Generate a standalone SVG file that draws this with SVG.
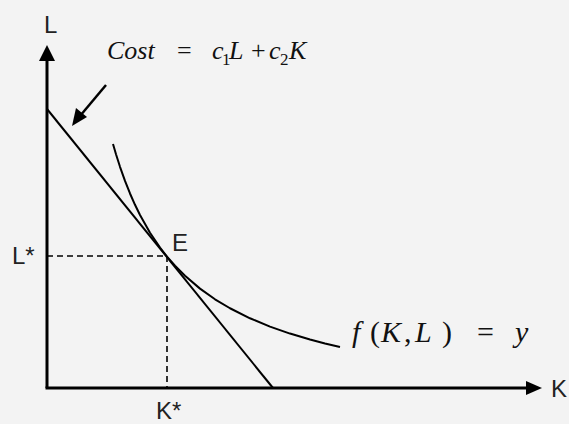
<svg xmlns="http://www.w3.org/2000/svg" width="569" height="424" viewBox="0 0 569 424">
<defs>
<style>
.lbl{font-family:"Liberation Sans",Arial,sans-serif;font-size:24px;fill:#222}
.math{font-family:"Liberation Serif","Times New Roman",serif;fill:#111}
.it{font-style:italic}
.axis{stroke:#000;stroke-width:3;fill:none}
.ln{stroke:#000;stroke-width:2;fill:none}
.dash{stroke:#000;stroke-width:1.6;stroke-dasharray:6 4;fill:none}
</style>
</defs>
<rect width="569" height="424" fill="#f3f3f3"/>
<g id="axes">
<line class="axis" x1="47" y1="388" x2="47" y2="58"/>
<polygon points="47,45 39,61 55,61" fill="#000"/>
<line class="axis" x1="45.5" y1="388" x2="528" y2="388"/>
<polygon points="542,388 526,381 526,395" fill="#000"/>
<text class="lbl" x="44" y="33">L</text>
<text class="lbl" x="551" y="397">K</text>
</g>
<g id="connectors">
<line class="ln" x1="47" y1="109" x2="273" y2="388"/>
<path class="ln" d="M113,143.95 L116,154.24 L120,166.81 L125,180.91 L130,193.49 L135,204.8 L140,215 L150,232.7 L160,247.52 L167,256.54 L175,265.72 L185,275.81 L200,288.62 L215,299.27 L230,308.26 L250,318.29 L270,326.59 L290,333.58 L310,339.54 L325,343.47 L340,347.01" stroke-linejoin="round"/>
<line class="dash" x1="47" y1="256" x2="167" y2="256"/>
<line class="dash" x1="167" y1="256" x2="167" y2="388"/>
<line stroke="#000" stroke-width="2.5" x1="106" y1="85" x2="80" y2="116"/>
<polygon points="72,126 76,108 87,117" fill="#000"/>
</g>
<g id="cost-label">
<text class="math" y="59" font-size="26"><tspan class="it" x="107">Cost</tspan><tspan x="177">=</tspan><tspan class="it" x="212">c</tspan><tspan x="222" dy="6" font-size="17">1</tspan><tspan class="it" x="229" dy="-6">L</tspan><tspan x="251">+</tspan><tspan class="it" x="269">c</tspan><tspan x="280" dy="6" font-size="17">2</tspan><tspan class="it" x="289" dy="-6">K</tspan></text>
</g>
<g id="E">
<text class="lbl" x="172" y="251">E</text>
</g>
<g id="Lstar">
<text class="lbl" x="12" y="264">L*</text>
</g>
<g id="Kstar">
<text class="lbl" x="156" y="419">K*</text>
</g>
<g id="f-label">
<text class="math" y="342" font-size="30"><tspan class="it" x="352">f</tspan><tspan x="370">(</tspan><tspan class="it" x="381">K</tspan><tspan x="404">,</tspan><tspan class="it" x="415">L</tspan><tspan x="442">)</tspan><tspan x="477">=</tspan><tspan class="it" x="515">y</tspan></text>
</g>
</svg>
